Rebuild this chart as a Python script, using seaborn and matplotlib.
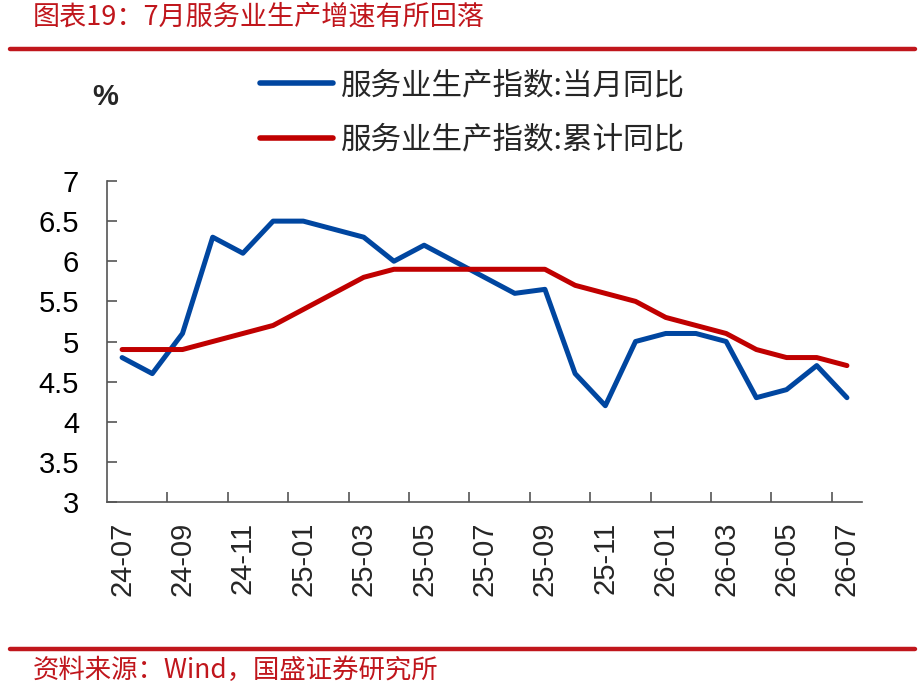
import numpy as np
import pandas as pd
import matplotlib
matplotlib.use("Agg")
import matplotlib.pyplot as plt
import seaborn as sns
from matplotlib.ticker import FixedLocator, FuncFormatter

# data
months = ["24-07", "24-08", "24-09", "24-10", "24-11", "24-12",
          "25-01", "25-02", "25-03", "25-04", "25-05", "25-06",
          "25-07", "25-08", "25-09", "25-10", "25-11", "25-12",
          "26-01", "26-02", "26-03", "26-04", "26-05", "26-06", "26-07"]
monthly_yoy = [4.8, 4.6, 5.1, 6.3, 6.1, 6.5,
               6.5, 6.4, 6.3, 6.0, 6.2, 6.0,
               5.8, 5.6, 5.65, 4.6, 4.2, 5.0,
               5.1, 5.1, 5.0, 4.3, 4.4, 4.7, 4.3]
cumulative_yoy = [4.9, 4.9, 4.9, 5.0, 5.1, 5.2,
                  5.4, 5.6, 5.8, 5.9, 5.9, 5.9,
                  5.9, 5.9, 5.9, 5.7, 5.6, 5.5,
                  5.3, 5.2, 5.1, 4.9, 4.8, 4.8, 4.7]
series_names = ["服务业生产指数:当月同比", "服务业生产指数:累计同比"]
series_colors = ["#0046A0", "#C00000"]
y_ticks = [3, 3.5, 4, 4.5, 5, 5.5, 6, 6.5, 7]

df = pd.DataFrame({
    "idx": list(range(len(months))) * 2,
    "value": monthly_yoy + cumulative_yoy,
    "series": [series_names[0]] * len(months) + [series_names[1]] * len(months),
})

sns.set_style("ticks")
plt.rcParams["font.family"] = ["Liberation Sans", "Noto Sans CJK SC", "DejaVu Sans"]
cjk = ["Noto Sans CJK SC", "DejaVu Sans"]

fig = plt.figure(figsize=(9.2, 6.89), dpi=100)
ax = fig.add_axes([0.1163, 0.2714, 0.8207, 0.4659])

sns.lineplot(data=df, x="idx", y="value", hue="series",
             palette=dict(zip(series_names, series_colors)),
             linewidth=3.6, ax=ax, legend=False)

ax.set_xlim(-0.5, len(months) - 0.5)
ax.set_ylim(3, 7)
ax.set_xlabel("")
ax.set_ylabel("")

# y axis
ax.yaxis.set_major_locator(FixedLocator(y_ticks))
ax.yaxis.set_major_formatter(FuncFormatter(lambda v, p: f"{v:g}"))
ax.tick_params(axis="y", direction="in", length=7, width=1.2, color="#555555",
               labelsize=21, pad=20, labelcolor="black")

# x axis: labels every other month, tick marks on category boundaries
label_pos = list(range(0, len(months), 2))
ax.set_xticks(label_pos)
ax.set_xticklabels([months[i] for i in label_pos], rotation=90, fontsize=21)
ax.tick_params(axis="x", which="major", length=0, pad=14)
ax.set_xticks([i + 1.5 for i in range(0, len(months) - 2, 2)], minor=True)
ax.tick_params(axis="x", which="minor", direction="in", length=7, width=1.2,
               color="#555555")

for side in ["top", "right"]:
    ax.spines[side].set_visible(False)
for side in ["left", "bottom"]:
    ax.spines[side].set_color("#555555")
    ax.spines[side].set_linewidth(1.2)

# legend
handles = [plt.Line2D([], [], color=c, linewidth=4, solid_capstyle="round")
           for c in series_colors]
fig.legend(handles, series_names, loc="upper left",
           bbox_to_anchor=(260 / 920, 1 - 70 / 689),
           frameon=False, borderpad=0, borderaxespad=0,
           handlelength=2.4, handletextpad=0.25, labelspacing=0.78,
           prop={"family": cjk, "size": 22})

fig.text(92 / 920, 1 - 97 / 689, "%", fontsize=21, fontweight="bold",
         ha="left", va="center")

# title, footer and red rules
red = "#C0161C"
fig.text(33 / 920, 1 - 17 / 689, "图表19：7月服务业生产增速有所回落",
         fontsize=19.5, style="italic", color=red, family=cjk,
         ha="left", va="center")
fig.add_artist(plt.Line2D([10 / 920, 915 / 920], [1 - 49 / 689, 1 - 49 / 689],
                          color=red, linewidth=3.2))
fig.add_artist(plt.Line2D([10 / 920, 915 / 920], [1 - 649 / 689, 1 - 649 / 689],
                          color=red, linewidth=3.2))
fig.text(33 / 920, 1 - 670 / 689, "资料来源：Wind，国盛证券研究所",
         fontsize=19, style="italic", color=red, family=cjk,
         ha="left", va="center")

fig.savefig("out.png", dpi=100)
